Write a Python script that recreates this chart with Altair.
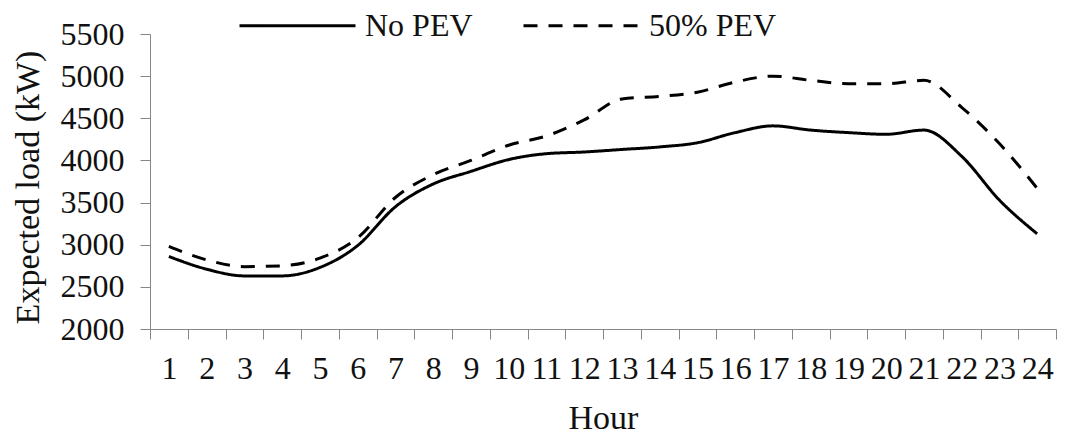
import altair as alt
import pandas as pd

hours = list(range(1, 25))
no_pev = [2860, 2710, 2630, 2630, 2730, 2990, 3450, 3720, 3870, 4010, 4080, 4100,
          4130, 4160, 4210, 4330, 4410, 4360, 4330, 4310, 4360, 4050, 3530, 3130]
pev50 = [2980, 2820, 2740, 2750, 2840, 3080, 3560, 3830, 4000, 4180, 4290, 4480,
         4730, 4760, 4810, 4930, 5000, 4950, 4910, 4910, 4950, 4630, 4200, 3670]
series_names = ["No PEV", "50% PEV"]
y_ticks = [2000, 2500, 3000, 3500, 4000, 4500, 5000, 5500]

rows = []
for name, vals in zip(series_names, [no_pev, pev50]):
    for h, v in zip(hours, vals):
        rows.append({"Hour": h, "Load": v, "Series": name})
df = pd.DataFrame(rows)

FONT = "Liberation Serif"
AX = "#868686"
TXT = "#111111"

chart = alt.Chart(df).mark_line(color="black", strokeWidth=3, interpolate="monotone").encode(
    x=alt.X("Hour:O", sort=hours,
            scale=alt.Scale(paddingInner=0, paddingOuter=0),
            axis=alt.Axis(title="Hour", labelAngle=0, tickBand="extent", labelOverlap=False,
                          domainColor=AX, tickColor=AX, tickSize=10, labelPadding=14,
                          labelFont=FONT, labelFontSize=32, labelColor=TXT, labelFontWeight="normal",
                          titleFont=FONT, titleFontSize=34, titleColor=TXT, titleFontWeight="normal",
                          titleY=99, titleBaseline="alphabetic")),
    y=alt.Y("Load:Q", scale=alt.Scale(domain=[2000, 5500], nice=False, zero=False),
            axis=alt.Axis(title="Expected load (kW)", values=y_ticks, grid=False, format="d",
                          domainColor=AX, tickColor=AX, tickSize=10, labelPadding=16,
                          labelFont=FONT, labelFontSize=32, labelColor=TXT,
                          titleFont=FONT, titleFontSize=34, titleColor=TXT, titleFontWeight="normal",
                          titleX=-122, titleY=153, titleBaseline="middle", titleAngle=270)),
    strokeDash=alt.StrokeDash("Series:N", sort=series_names,
                              scale=alt.Scale(domain=series_names, range=[[1, 0], [14, 11]]),
                              legend=alt.Legend(title=None, orient="none", direction="horizontal",
                                                legendX=88, legendY=-68,
                                                symbolType="stroke", symbolSize=13456,
                                                symbolStrokeWidth=3, symbolStrokeColor="black",
                                                labelFont=FONT, labelFontSize=32, labelColor=TXT,
                                                labelOffset=8, columnPadding=44)),
).properties(
    width=906, height=295,
    autosize=alt.AutoSizeParams(type="none"),
    padding={"left": 142, "top": 26, "right": 12, "bottom": 107},
).configure_view(stroke=None)

chart.save("out.html", embed_options={"renderer": "svg", "actions": False})
